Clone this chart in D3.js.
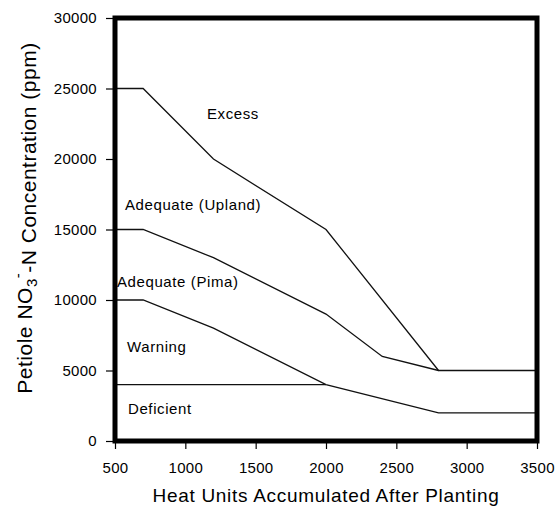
<!DOCTYPE html>
<html>
<head>
<meta charset="utf-8">
<script src="https://cdn.jsdelivr.net/npm/d3@7/dist/d3.min.js"></script>
<style>
  html, body { margin: 0; padding: 0; background: #fff; }
  svg { display: block; }
  text { font-family: "Liberation Sans", Arial, Helvetica, sans-serif; fill: #000; }
</style>
</head>
<body>
<svg id="chart" width="555" height="508"></svg>
<script>
// ---- data ----
const xTickValues = [500, 1000, 1500, 2000, 2500, 3000, 3500];
const yTickValues = [0, 5000, 10000, 15000, 20000, 25000, 30000];

const excessBoundary    = [[500, 25000], [700, 25000], [1200, 20000], [2000, 15000], [2800, 5000], [3500, 5000]];
const uplandBoundary    = [[500, 15000], [700, 15000], [1200, 13000], [2000, 9000], [2400, 6000], [2800, 5000]];
const pimaBoundary      = [[500, 10000], [700, 10000], [1200, 8000], [2000, 4000], [2800, 2000], [3500, 2000]];
const deficientBoundary = [[500, 4000], [2000, 4000]];

const zoneLabels = ["Excess", "Adequate (Upland)", "Adequate (Pima)", "Warning", "Deficient"];

const xTitle = "Heat Units Accumulated After Planting";

// ---- layout ----
const svg = d3.select("#chart");
const mLeft = 115, mRight = 537, mTop = 18, mBottom = 441;

const x = d3.scaleLinear().domain([500, 3500]).range([mLeft, mRight]);
const y = d3.scaleLinear().domain([0, 30000]).range([mBottom, mTop]);

// axes
const yAxis = d3.axisLeft(y).tickValues(yTickValues).tickSize(9).tickPadding(9).tickFormat(d3.format("d"));
const xAxis = d3.axisBottom(x).tickValues(xTickValues).tickSize(8).tickPadding(13).tickFormat(d3.format("d"));

const gy = svg.append("g").attr("transform", `translate(${mLeft},0)`).call(yAxis);
const gx = svg.append("g").attr("transform", `translate(0,${mBottom})`).call(xAxis);
[gy, gx].forEach(g => {
  g.select(".domain").remove();
  g.selectAll(".tick line").attr("stroke", "#000").attr("stroke-width", 1.2);
  g.selectAll(".tick text")
    .style("font-family", '"Liberation Sans", Arial, sans-serif')
    .style("font-size", "15px")
    .style("letter-spacing", "0.3px")
    .attr("fill", "#222");
});

// boundary lines
const line = d3.line().x(d => x(d[0])).y(d => y(d[1]));
[excessBoundary, uplandBoundary, pimaBoundary, deficientBoundary].forEach(data => {
  svg.append("path")
    .datum(data)
    .attr("d", line)
    .attr("fill", "none")
    .attr("stroke", "#111")
    .attr("stroke-width", 1.3);
});

// frame
svg.append("rect")
  .attr("x", x(500)).attr("y", y(30000))
  .attr("width", x(3500) - x(500)).attr("height", y(0) - y(30000))
  .attr("fill", "none").attr("stroke", "#000").attr("stroke-width", 5);

// zone labels
const labelPos = [[207, 119], [125, 210], [117, 287], [127, 352], [128, 414]];
zoneLabels.forEach((t, i) => {
  svg.append("text")
    .attr("x", labelPos[i][0]).attr("y", labelPos[i][1])
    .style("font-size", "15px")
    .style("letter-spacing", "0.6px")
    .attr("fill", "#222")
    .text(t);
});

// x title
svg.append("text")
  .attr("x", (mLeft + mRight) / 2).attr("y", 502)
  .attr("text-anchor", "middle")
  .style("font-size", "19px")
  .style("letter-spacing", "0.7px")
  .attr("fill", "#222")
  .text(xTitle);

// y title with sub/superscript
const yt = svg.append("text")
  .attr("transform", "translate(32,218) rotate(-90)")
  .attr("text-anchor", "middle")
  .style("font-size", "21px")
  .style("letter-spacing", "0.5px")
  .attr("fill", "#222");
yt.append("tspan").text("Petiole NO");
yt.append("tspan").attr("dy", "0.3em").style("font-size", "15px").text("3");
yt.append("tspan").attr("dy", "-0.9em").style("font-size", "15px").text("-");
yt.append("tspan").attr("dy", "0.6em").text("-N Concentration (ppm)");
</script>
</body>
</html>
